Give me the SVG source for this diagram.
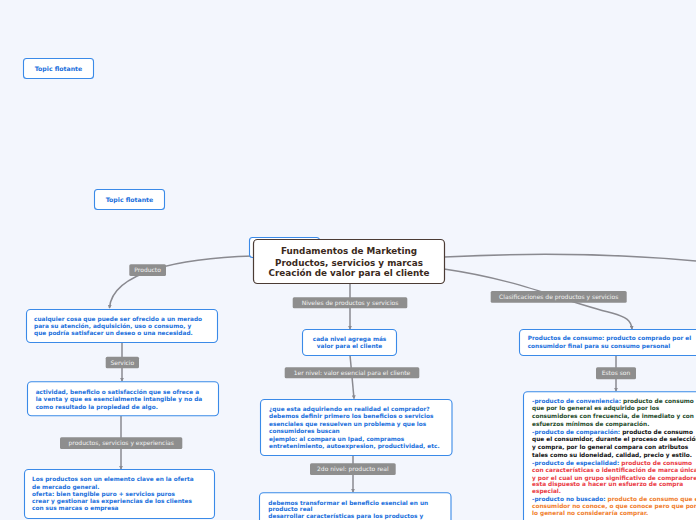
<svg xmlns="http://www.w3.org/2000/svg" width="696" height="520" viewBox="0 0 696 520">
<defs>
<style>
.bg{fill:#f3f6fd}
.node{fill:#fff;stroke:#3a8ae8;stroke-width:1.1}
.central{fill:#fff;stroke:#4b3b34;stroke-width:1.2}
.ct{font-family:"DejaVu Sans",Verdana,sans-serif;font-weight:bold;font-size:8.8px;fill:#3b2a20;text-anchor:middle}
.t{font-family:"DejaVu Sans",Verdana,sans-serif;font-weight:bold;font-size:5.8px;fill:#1a6fdc}
.tf{font-family:"DejaVu Sans",Verdana,sans-serif;font-weight:bold;font-size:6.2px;fill:#1a6fdc;text-anchor:middle}
.lb{fill:#8e8e8e}
.lt{font-family:"DejaVu Sans",Verdana,sans-serif;font-size:6px;fill:#f2f2f2;text-anchor:middle}
.c{fill:none;stroke:#8a8a90;stroke-width:1.5}
.g{fill:#1e4a2a}.k{fill:#111}.r{fill:#ea3a44}.o{fill:#f07d2c}
</style>
<marker id="arr" viewBox="0 0 10 10" refX="8" refY="5" markerWidth="4" markerHeight="4" orient="auto" markerUnits="userSpaceOnUse">
<path d="M0,0 L10,5 L0,10 z" fill="#8a8a90"/>
</marker>
</defs>
<rect class="bg" x="0" y="0" width="696" height="520"/>

<g id="connectors">
<path class="c" d="M253,256 C180,258 112,272 109.5,308" marker-end="url(#arr)"/>
<path class="c" d="M122,342 L122,381" marker-end="url(#arr)"/>
<path class="c" d="M121,416 L121,469" marker-end="url(#arr)"/>
<path class="c" d="M350,283 L350,329" marker-end="url(#arr)"/>
<path class="c" d="M350,355 L354,398.5" marker-end="url(#arr)"/>
<path class="c" d="M353,456 L353,492" marker-end="url(#arr)"/>
<path class="c" d="M444,257 C540,252 620,254 696,261"/>
<path class="c" d="M444,269 C520,280 560,300 612,313 C626,317 631,320 632,329" marker-end="url(#arr)"/>
<path class="c" d="M616,356 L616,391" marker-end="url(#arr)"/>
</g>

<g id="topic-flotante-1">
<rect class="node" x="23.5" y="58.5" width="70" height="20" rx="3"/>
<text class="tf" x="58.5" y="70.7">Topic flotante</text>
</g>
<g id="topic-flotante-2">
<rect class="node" x="94.5" y="189.5" width="70" height="20" rx="3"/>
<text class="tf" x="129.5" y="201.7">Topic flotante</text>
</g>
<g id="topic-flotante-3">
<rect class="node" x="249.5" y="237.5" width="70" height="20" rx="3"/>
</g>

<g id="central">
<rect class="central" x="253.5" y="239.5" width="191" height="44" rx="4"/>
<text class="ct" x="349" y="254.2">Fundamentos de Marketing</text>
<text class="ct" x="349" y="265.5">Productos, servicios y marcas</text>
<text class="ct" x="349" y="276">Creación de valor para el cliente</text>
</g>

<g id="label-producto">
<rect class="lb" x="129.3" y="264.3" width="36.7" height="11.7" rx="1.5"/>
<text class="lt" x="147.6" y="272.3">Producto</text>
</g>

<g id="node-producto">
<rect class="node" x="26.5" y="309.5" width="191" height="33" rx="4"/>
<text class="t" x="34" y="321">cualquier cosa que puede ser ofrecido a un merado</text>
<text class="t" x="34" y="328.2">para su atención, adquisición, uso o consumo, y</text>
<text class="t" x="34" y="335.4">que podría satisfacer un deseo o una necesidad.</text>
</g>

<g id="label-servicio">
<rect class="lb" x="105.7" y="356.7" width="33.3" height="11.6" rx="1.5"/>
<text class="lt" x="122.3" y="364.6">Servicio</text>
</g>

<g id="node-servicio">
<rect class="node" x="27.5" y="381.7" width="191" height="34" rx="4"/>
<text class="t" x="35.7" y="393.7">actividad, beneficio o satisfacción que se ofrece a</text>
<text class="t" x="35.7" y="401">la venta y que es esencialmente intangible y no da</text>
<text class="t" x="35.7" y="408.7">como resultado la propiedad de algo.</text>
</g>

<g id="label-experiencias">
<rect class="lb" x="60" y="437.3" width="122.3" height="11.7" rx="1.5"/>
<text class="lt" x="121.2" y="445.3">productos, servicios y experiencias</text>
</g>

<g id="node-experiencias">
<rect class="node" x="24.5" y="469.5" width="190" height="49" rx="4"/>
<text class="t" x="32" y="481">Los productos son un elemento clave en la oferta</text>
<text class="t" x="32" y="488.7">de mercado general.</text>
<text class="t" x="32" y="495.7">oferta: bien tangible puro + servicios puros</text>
<text class="t" x="32" y="503.3">crear y gestionar las experiencias de los clientes</text>
<text class="t" x="32" y="510.3">con sus marcas o empresa</text>
</g>

<g id="label-niveles">
<rect class="lb" x="292.7" y="297.3" width="114.6" height="11" rx="1.5"/>
<text class="lt" x="350" y="304.9">Niveles de productos y servicios</text>
</g>

<g id="node-niveles">
<rect class="node" x="302.5" y="329.5" width="94" height="26" rx="4"/>
<text class="t" x="349.5" y="340.7" text-anchor="middle">cada nivel agrega más</text>
<text class="t" x="349.5" y="347.7" text-anchor="middle">valor para el cliente</text>
</g>

<g id="label-1er-nivel">
<rect class="lb" x="284.7" y="367.3" width="134.6" height="11" rx="1.5"/>
<text class="lt" x="352" y="374.9">1er nivel: valor esencial para el cliente</text>
</g>

<g id="node-1er-nivel">
<rect class="node" x="260.5" y="399.5" width="191.5" height="56" rx="4"/>
<text class="t" x="269" y="411">¿que esta adquiriendo en realidad el comprador?</text>
<text class="t" x="269" y="418">debemos definir primero los beneficios o servicios</text>
<text class="t" x="269" y="426">esenciales que resuelven un problema y que los</text>
<text class="t" x="269" y="432.7">consumidores buscan</text>
<text class="t" x="269" y="440.7">ejemplo: al compara un Ipad, compramos</text>
<text class="t" x="269" y="448">entretenimiento, autoexpresion, productividad, etc.</text>
</g>

<g id="label-2do-nivel">
<rect class="lb" x="310" y="463.3" width="85.7" height="11.7" rx="1.5"/>
<text class="lt" x="352.8" y="471.3">2do nivel: producto real</text>
</g>

<g id="node-2do-nivel">
<rect class="node" x="259.5" y="492.7" width="191.5" height="40" rx="4"/>
<text class="t" x="268.3" y="504.7">debemos transformar el beneficio esencial en un</text>
<text class="t" x="268.3" y="511.3">producto real</text>
<text class="t" x="268.3" y="518">desarrollar características para los productos y</text>
</g>

<g id="label-clasificaciones">
<rect class="lb" x="490.7" y="291" width="136" height="11.7" rx="1.5"/>
<text class="lt" x="558.7" y="299">Clasificaciones de productos y servicios</text>
</g>

<g id="node-consumo">
<rect class="node" x="519.5" y="329.5" width="200" height="26" rx="4"/>
<text class="t" x="527.7" y="340.3">Productos de consumo: producto comprado por el</text>
<text class="t" x="527.7" y="347.7">consumidor final para su consumo personal</text>
</g>

<g id="label-estos-son">
<rect class="lb" x="596" y="367.3" width="40" height="12" rx="1.5"/>
<text class="lt" x="616" y="375.4">Estos son</text>
</g>

<g id="node-tipos">
<rect class="node" x="523.5" y="391.7" width="200" height="140" rx="4"/>
<text class="t" x="532" y="402.7">-producto de conveniencia:<tspan class="g"> producto de consumo</tspan></text>
<text class="t g" x="532" y="410.3">que por lo general es adquirido por los</text>
<text class="t g" x="532" y="418">consumidores con frecuencia, de inmediato y con</text>
<text class="t g" x="532" y="426">esfuerzos mínimos de comparación.</text>
<text class="t" x="532" y="433.7">-producto de comparación:<tspan class="k"> producto de consumo</tspan></text>
<text class="t k" x="532" y="441.3">que  el consumidor, durante el proceso de selección</text>
<text class="t k" x="532" y="449">y compra, por lo general compara con atributos</text>
<text class="t k" x="532" y="457">tales como su idoneidad, calidad, precio y estilo.</text>
<text class="t" x="532" y="464.7">-producto de especialidad:<tspan class="r"> producto de consumo</tspan></text>
<text class="t r" x="532" y="472.3">con características o identificación de marca única</text>
<text class="t r" x="532" y="479.7">y por el cual un grupo significativo de compradores</text>
<text class="t r" x="532" y="486.3">esta dispuesto a hacer un esfuerzo de compra</text>
<text class="t r" x="532" y="493">especial.</text>
<text class="t" x="532" y="501">-producto no buscado:<tspan class="o"> producto de consumo que el</tspan></text>
<text class="t o" x="532" y="507.7">consumidor no conoce, o que conoce pero que por</text>
<text class="t o" x="532" y="515.3">lo general no consideraría comprar.</text>
</g>
</svg>
